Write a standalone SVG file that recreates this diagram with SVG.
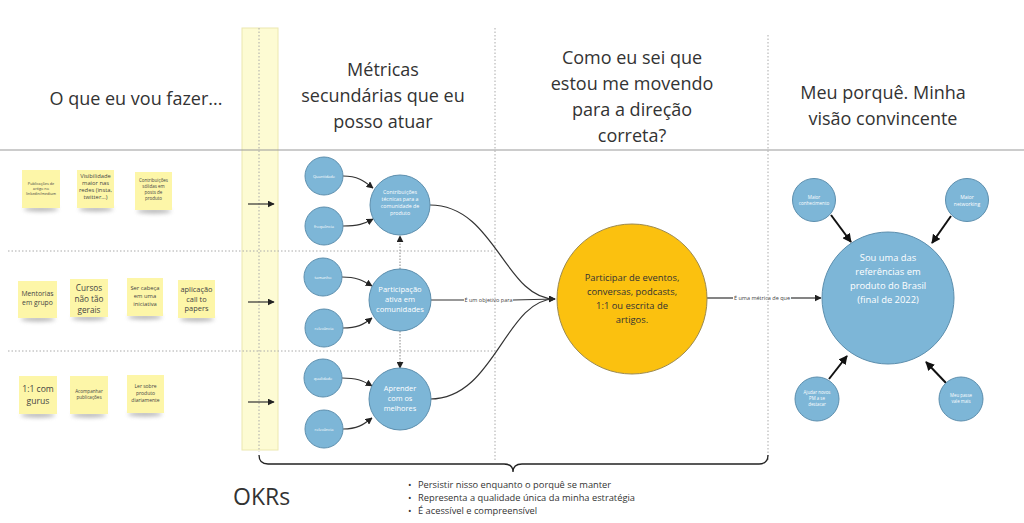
<svg xmlns="http://www.w3.org/2000/svg" width="1024" height="523" viewBox="0 0 1024 523">
<defs>
<style>
text{font-family:"Open Sans","Noto Sans","Liberation Sans",sans-serif;fill:#333;}
.h{font-size:18px;text-anchor:middle;}
.st{fill:#fdf6a8;}
.sh{fill:#777;opacity:.55;filter:url(#blur);}
.stt{text-anchor:middle;fill:#444;}
.bc{fill:#7db6d7;stroke:#5d8fae;stroke-width:1;}
.bt{fill:#fff;text-anchor:middle;}
.conn{fill:none;stroke:#333;stroke-width:1.2;}
.dot{fill:none;stroke:#aaa;stroke-width:1;stroke-dasharray:1.5 2;}
.lab{font-size:5.5px;fill:#444;text-anchor:middle;}
</style>
<filter id="blur" x="-20%" y="-100%" width="140%" height="300%"><feGaussianBlur stdDeviation="2"/></filter>
<marker id="ah" viewBox="0 0 10 10" refX="9" refY="5" markerWidth="7" markerHeight="7" markerUnits="userSpaceOnUse" orient="auto"><path d="M0,0 L10,5 L0,10 z" fill="#222"/></marker>
<marker id="ahb" viewBox="0 0 10 10" refX="9" refY="5" markerWidth="9" markerHeight="9" markerUnits="userSpaceOnUse" orient="auto"><path d="M0,0 L10,5 L0,10 z" fill="#111"/></marker>
</defs>
<rect width="1024" height="523" fill="#fff"/>

<!-- yellow band and guides -->
<rect x="242" y="28" width="36" height="422" fill="#fdfbd3" stroke="#ece8b0" stroke-width="1"/>
<g id="guides">
<line x1="0" y1="150" x2="1024" y2="150" stroke="#999" stroke-width="1"/>
<line class="dot" x1="8" y1="251" x2="495" y2="251"/>
<line class="dot" x1="8" y1="351" x2="495" y2="351"/>
<line class="dot" x1="259" y1="28" x2="259" y2="452"/>
<line class="dot" x1="495" y1="28" x2="495" y2="462"/>
<line class="dot" x1="768" y1="35" x2="768" y2="462"/>
</g>

<!-- headers -->
<g id="headers">
<text class="h" x="136" y="105">O que eu vou fazer...</text>
<text class="h" x="383" y="76">Métricas</text>
<text class="h" x="383" y="102">secundárias que eu</text>
<text class="h" x="383" y="128">posso atuar</text>
<text class="h" x="632" y="64">Como eu sei que</text>
<text class="h" x="632" y="90">estou me movendo</text>
<text class="h" x="632" y="116">para a direção</text>
<text class="h" x="632" y="142">correta?</text>
<text class="h" x="883" y="99">Meu porquê. Minha</text>
<text class="h" x="883" y="125">visão convincente</text>
</g>

<!-- sticky notes -->
<g id="sticky1"><ellipse class="sh" cx="41" cy="209" rx="17" ry="2.5"/><rect class="st" x="22" y="170" width="38" height="38"/>
<text class="stt" font-size="3.8"><tspan x="41" y="185">Publicações de</tspan><tspan x="41" y="190">artigo no</tspan><tspan x="41" y="195">linkedin/medium</tspan></text></g>
<g id="sticky2"><ellipse class="sh" cx="96" cy="209" rx="17" ry="2.5"/><rect class="st" x="77" y="170" width="37" height="38"/>
<text class="stt" font-size="5.8"><tspan x="95.5" y="178">Visibilidade</tspan><tspan x="95.5" y="185">maior nas</tspan><tspan x="95.5" y="192">redes (insta,</tspan><tspan x="95.5" y="199">twitter...)</tspan></text></g>
<g id="sticky3"><ellipse class="sh" cx="154" cy="211" rx="17" ry="2.5"/><rect class="st" x="135" y="172" width="37" height="38"/>
<text class="stt" font-size="4.5"><tspan x="153.5" y="182">Contribuições</tspan><tspan x="153.5" y="188">sólidas em</tspan><tspan x="153.5" y="194">posts de</tspan><tspan x="153.5" y="200">produto</tspan></text></g>

<g id="sticky4"><ellipse class="sh" cx="38" cy="319" rx="17" ry="2.5"/><rect class="st" x="18" y="281" width="39" height="37"/>
<text class="stt" font-size="6.8"><tspan x="37.5" y="296">Mentorias</tspan><tspan x="37.5" y="305">em grupo</tspan></text></g>
<g id="sticky5"><ellipse class="sh" cx="89" cy="318" rx="17" ry="2.5"/><rect class="st" x="70" y="279" width="38" height="38"/>
<text class="stt" font-size="8.2"><tspan x="89" y="291">Cursos</tspan><tspan x="89" y="302">não tão</tspan><tspan x="89" y="313">gerais</tspan></text></g>
<g id="sticky6"><ellipse class="sh" cx="145" cy="317" rx="17" ry="2.5"/><rect class="st" x="127" y="278" width="36" height="38"/>
<text class="stt" font-size="5.8"><tspan x="145" y="290">Ser cabeça</tspan><tspan x="145" y="298">em uma</tspan><tspan x="145" y="306">iniciativa</tspan></text></g>
<g id="sticky7"><ellipse class="sh" cx="197" cy="319" rx="17" ry="2.5"/><rect class="st" x="178" y="280" width="37" height="38"/>
<text class="stt" font-size="7.4"><tspan x="196.5" y="292">aplicação</tspan><tspan x="196.5" y="301.5">call to</tspan><tspan x="196.5" y="311">papers</tspan></text></g>

<g id="sticky8"><ellipse class="sh" cx="38" cy="415" rx="17" ry="2.5"/><rect class="st" x="19" y="376" width="38" height="38"/>
<text class="stt" font-size="8.6"><tspan x="38" y="392">1:1 com</tspan><tspan x="38" y="404">gurus</tspan></text></g>
<g id="sticky9"><ellipse class="sh" cx="89" cy="415" rx="17" ry="2.5"/><rect class="st" x="70" y="376" width="38" height="38"/>
<text class="stt" font-size="4.6"><tspan x="89" y="393">Acompanhar</tspan><tspan x="89" y="399">publicações</tspan></text></g>
<g id="sticky10"><ellipse class="sh" cx="145" cy="414" rx="17" ry="2.5"/><rect class="st" x="127" y="375" width="37" height="38"/>
<text class="stt" font-size="5"><tspan x="145.5" y="388">Ler sobre</tspan><tspan x="145.5" y="395">produto</tspan><tspan x="145.5" y="402">diariamente</tspan></text></g>

<!-- connectors -->
<g id="connectors">
<line class="conn" x1="248" y1="204" x2="274" y2="204" marker-end="url(#ah)"/>
<line class="conn" x1="248" y1="302" x2="274" y2="302" marker-end="url(#ah)"/>
<line class="conn" x1="248" y1="402" x2="274" y2="402" marker-end="url(#ah)"/>

<path class="conn" d="M343,176 C358,176 364,181 373,188" marker-end="url(#ah)"/>
<path class="conn" d="M343,226 C358,226 364,224 373,219" marker-end="url(#ah)"/>
<path class="conn" d="M342,277 C356,277 362,280 372,286" marker-end="url(#ah)"/>
<path class="conn" d="M343,328 C357,328 363,325 372,318" marker-end="url(#ah)"/>
<path class="conn" d="M342,378 C356,378 362,380 372,386" marker-end="url(#ah)"/>
<path class="conn" d="M343,429 C357,429 363,425 372,418" marker-end="url(#ah)"/>

<line x1="400" y1="269" x2="400" y2="236" stroke="#888" stroke-width="1" stroke-dasharray="1.5 1.5" marker-end="url(#ah)"/>
<line x1="400" y1="331" x2="400" y2="368" stroke="#888" stroke-width="1" stroke-dasharray="1.5 1.5" marker-end="url(#ah)"/>

<path class="conn" d="M430,205 C495,205 505,299 555,299" marker-end="url(#ah)"/>
<path class="conn" d="M430,399 C495,399 505,299 555,299" marker-end="url(#ah)"/>
<line class="conn" x1="431" y1="300" x2="464" y2="300"/>
<line class="conn" x1="513" y1="300" x2="555" y2="299"/>
<text class="lab" x="488.5" y="302">É um objetivo para</text>

<line class="conn" x1="707" y1="298" x2="733" y2="298"/>
<line class="conn" x1="791" y1="298" x2="821" y2="298" marker-end="url(#ah)"/>
<text class="lab" x="762" y="300">É uma métrica de que</text>

<line x1="831" y1="215" x2="851" y2="242" stroke="#111" stroke-width="2" marker-end="url(#ahb)"/>
<line x1="951" y1="216" x2="932" y2="243" stroke="#111" stroke-width="2" marker-end="url(#ahb)"/>
<line x1="829" y1="379" x2="847" y2="356" stroke="#111" stroke-width="2" marker-end="url(#ahb)"/>
<line x1="946" y1="383" x2="926" y2="362" stroke="#111" stroke-width="2" marker-end="url(#ahb)"/>
</g>

<!-- metric nodes -->
<g id="n-quantidade"><circle class="bc" cx="324" cy="176" r="19"/><text class="bt" x="324" y="178" font-size="4">Quantidade</text></g>
<g id="n-frequencia"><circle class="bc" cx="324" cy="226" r="19"/><text class="bt" x="324" y="228" font-size="4">frequência</text></g>
<g id="n-tamanho"><circle class="bc" cx="323" cy="277" r="19"/><text class="bt" x="323" y="279" font-size="4">tamanho</text></g>
<g id="n-relevancia1"><circle class="bc" cx="324" cy="328" r="19"/><text class="bt" x="324" y="330" font-size="4">relevância</text></g>
<g id="n-qualidade"><circle class="bc" cx="323" cy="378" r="19"/><text class="bt" x="323" y="380" font-size="4">qualidade</text></g>
<g id="n-relevancia2"><circle class="bc" cx="324" cy="429" r="19"/><text class="bt" x="324" y="431" font-size="4">relevância</text></g>

<g id="n-contribuicoes"><circle class="bc" cx="400" cy="205" r="30"/>
<text class="bt" font-size="5.3"><tspan x="400" y="194">Contribuições</tspan><tspan x="400" y="201">técnicas  para a</tspan><tspan x="400" y="208">comunidade de</tspan><tspan x="400" y="215">produto</tspan></text></g>
<g id="n-participacao"><circle class="bc" cx="400" cy="300" r="31"/>
<text class="bt" font-size="7.6"><tspan x="400" y="292">Participação</tspan><tspan x="400" y="302">ativa em</tspan><tspan x="400" y="312">comunidades</tspan></text></g>
<g id="n-aprender"><circle class="bc" cx="400" cy="399" r="31"/>
<text class="bt" font-size="7.4"><tspan x="400" y="391">Aprender</tspan><tspan x="400" y="401">com os</tspan><tspan x="400" y="411">melhores</tspan></text></g>

<g id="n-participar"><circle cx="632" cy="299" r="75" fill="#fbc10f" stroke="#9c8a50" stroke-width="1"/>
<text text-anchor="middle" font-size="9.4" fill="#333"><tspan x="632" y="281">Participar de eventos,</tspan><tspan x="632" y="295">conversas, podcasts,</tspan><tspan x="632" y="309">1:1 ou escrita de</tspan><tspan x="632" y="323">artigos.</tspan></text></g>

<g id="n-visao"><circle class="bc" cx="888" cy="298" r="66"/>
<text class="bt" font-size="9.4"><tspan x="888" y="261">Sou uma das</tspan><tspan x="888" y="275">referências em</tspan><tspan x="888" y="289">produto do Brasil</tspan><tspan x="888" y="303">(final de 2022)</tspan></text></g>

<g id="n-conhecimento"><circle class="bc" cx="814" cy="200" r="21.5"/><text class="bt" font-size="4.6"><tspan x="814" y="199">Maior</tspan><tspan x="814" y="205">conhecimento</tspan></text></g>
<g id="n-networking"><circle class="bc" cx="967" cy="200" r="21.5"/><text class="bt" font-size="5"><tspan x="967" y="199">Maior</tspan><tspan x="967" y="206">networking</tspan></text></g>
<g id="n-ajudar"><circle class="bc" cx="817" cy="399" r="22"/><text class="bt" font-size="4.4"><tspan x="817" y="394">Ajudar novos</tspan><tspan x="817" y="400">PM a se</tspan><tspan x="817" y="406">destacar</tspan></text></g>
<g id="n-passe"><circle class="bc" cx="961" cy="399" r="22"/><text class="bt" font-size="4.4"><tspan x="961" y="397">Meu passe</tspan><tspan x="961" y="403">vale mais</tspan></text></g>

<!-- brace and OKRs -->
<g id="okrs">
<path d="M259,455 Q259,464 268,464 L504,464 Q513,464 513,472 Q513,464 522,464 L759,464 Q768,464 768,455" fill="none" stroke="#222" stroke-width="1.3"/>
<text x="233" y="505" font-size="23" fill="#333">OKRs</text>
<g font-size="9.3" fill="#444">
<text x="408" y="488">•</text><text x="418" y="488">Persistir nisso enquanto o porquê se manter</text>
<text x="408" y="501">•</text><text x="418" y="501">Representa a qualidade única da minha estratégia</text>
<text x="408" y="514">•</text><text x="418" y="514">É acessível e compreensível</text>
</g>
</g>
</svg>
